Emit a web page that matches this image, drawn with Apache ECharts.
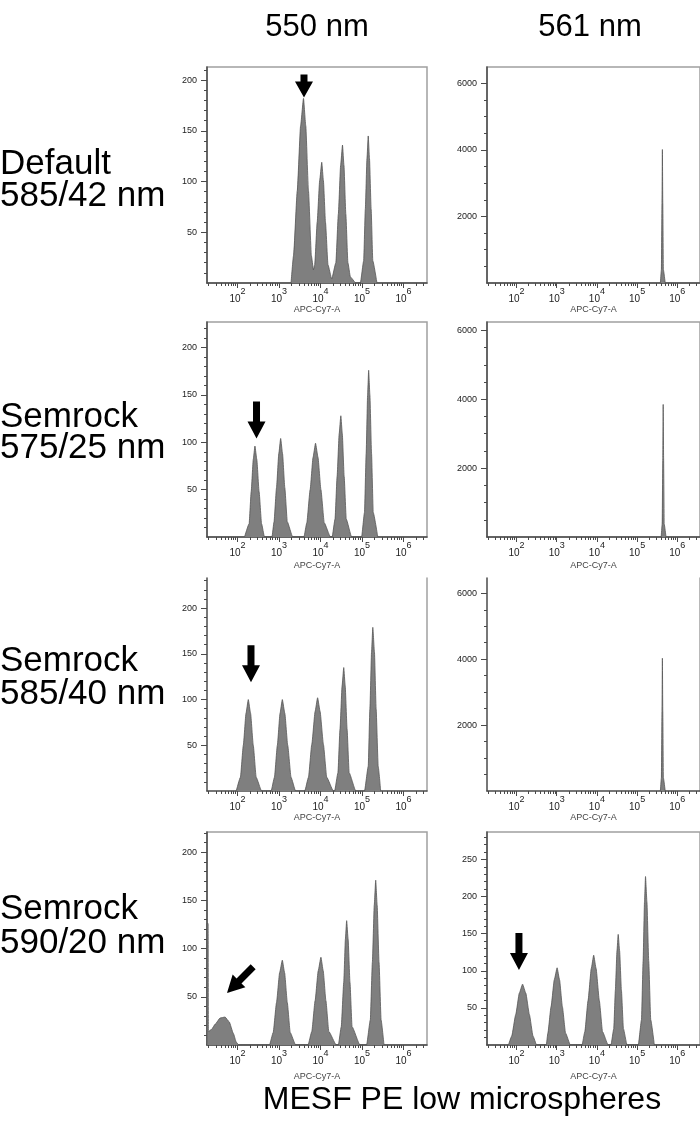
<!DOCTYPE html>
<html>
<head>
<meta charset="utf-8">
<script src="https://cdn.jsdelivr.net/npm/echarts@6/dist/echarts.min.js"></script>
<style>
  html, body { margin: 0; padding: 0; background: #fff; }
  #chart { width: 700px; height: 1123px; }
</style>
</head>
<body>
<div id="chart"></div>
<script>
// Histograms: [log10(APC-Cy7-A intensity), event count]
const hist550Default = [
  [3.29,0],[3.35,27],[3.44,91],[3.52,155],[3.59,182],[3.645,155],[3.71,91],[3.78,27],[3.83,13],
  [3.86,18],[3.92,60],[3.98,101],[4.03,119],[4.07,101],[4.12,60],[4.18,18],[4.27,4],
  [4.37,20],[4.43,68],[4.485,116],[4.53,136],[4.565,116],[4.61,68],[4.66,20],[4.72,6],[4.85,0],
  [4.96,0],[5.04,22],[5.08,73],[5.12,123],[5.15,145],[5.18,123],[5.22,73],[5.26,22],[5.36,0]
];
const hist561Default = [
  [5.58,0],[5.605,400],[5.62,2400],[5.63,4010],[5.64,2400],[5.655,400],[5.70,0]
];
const hist550Sr575 = [
  [2.17,0],[2.28,14],[2.33,48],[2.38,82],[2.42,96],[2.465,82],[2.52,48],[2.58,14],[2.65,0],
  [2.83,0],[2.88,16],[2.94,52],[2.995,88],[3.04,104],[3.085,88],[3.14,52],[3.20,16],[3.33,0],
  [3.60,0],[3.67,15],[3.75,50],[3.82,84],[3.88,99],[3.94,84],[4.01,50],[4.09,15],[4.24,0],
  [4.28,0],[4.35,19],[4.40,64],[4.45,109],[4.49,128],[4.525,109],[4.57,64],[4.62,19],[4.75,0],
  [4.99,0],[5.06,26],[5.10,88],[5.135,150],[5.16,176],[5.19,150],[5.23,88],[5.27,26],[5.38,0]
];
const hist561Sr575 = [
  [5.60,0],[5.625,380],[5.64,2300],[5.65,3850],[5.66,2300],[5.675,380],[5.72,0]
];
const hist550Sr585 = [
  [1.97,0],[2.07,15],[2.14,50],[2.205,85],[2.26,100],[2.315,85],[2.38,50],[2.45,15],[2.58,0],
  [2.81,0],[2.89,15],[2.96,50],[3.025,85],[3.08,100],[3.14,85],[3.21,50],[3.29,15],[3.40,0],
  [3.62,0],[3.71,15],[3.79,51],[3.87,87],[3.93,102],[3.99,87],[4.07,51],[4.15,15],[4.31,0],
  [4.34,0],[4.42,20],[4.47,68],[4.52,115],[4.56,135],[4.595,115],[4.64,68],[4.69,20],[4.85,0],
  [5.06,0],[5.15,27],[5.19,90],[5.23,152],[5.26,179],[5.30,152],[5.34,90],[5.39,27],[5.45,0]
];
const hist561Sr585 = [
  [5.58,0],[5.605,400],[5.62,2420],[5.63,4030],[5.64,2420],[5.655,400],[5.70,0]
];
const hist550Sr590 = [
  [1.265,0],[1.265,126],[1.292,126],[1.30,14],[1.37,16],[1.47,22],[1.58,28],[1.70,29],[1.80,24],[1.90,12],[1.97,3],[2.03,0],
  [2.77,0],[2.86,13],[2.94,44],[3.015,75],[3.08,88],[3.135,75],[3.20,44],[3.27,13],[3.40,0],
  [3.70,0],[3.79,14],[3.87,46],[3.945,77],[4.01,91],[4.065,77],[4.13,46],[4.20,14],[4.38,0],
  [4.43,0],[4.50,19],[4.56,65],[4.60,110],[4.63,129],[4.665,110],[4.71,65],[4.76,19],[4.95,0],
  [5.11,0],[5.20,26],[5.25,86],[5.295,145],[5.33,171],[5.365,145],[5.41,86],[5.46,26],[5.53,0]
];
const hist561Sr590 = [
  [1.80,0],[1.88,12],[1.98,41],[2.07,70],[2.15,82],[2.23,70],[2.32,41],[2.41,12],[2.50,0],
  [2.74,0],[2.78,16],[2.86,52],[2.94,88],[3.01,104],[3.07,88],[3.14,52],[3.22,16],[3.34,0],
  [3.63,0],[3.70,18],[3.78,60],[3.86,103],[3.92,121],[3.98,103],[4.06,60],[4.14,18],[4.28,0],
  [4.35,0],[4.42,22],[4.46,74],[4.50,127],[4.53,149],[4.565,127],[4.61,74],[4.66,22],[4.75,0],
  [5.03,0],[5.11,34],[5.15,113],[5.185,193],[5.21,227],[5.245,193],[5.29,113],[5.34,34],[5.43,0]
];

// Axis tick labels
const decadeExponents = [2, 3, 4, 5, 6];
const minorMultipliers = [2, 3, 4, 5, 6, 7, 8, 9];
const countTicksLow = [50, 100, 150, 200];
const countTicksHigh = [2000, 4000, 6000];
const countTicksLow250 = [50, 100, 150, 200, 250];

// Text
const columnTitles = ['550 nm', '561 nm'];
const rowTitles = [
  ['Default', '585/42 nm'],
  ['Semrock', '575/25 nm'],
  ['Semrock', '585/40 nm'],
  ['Semrock', '590/20 nm']
];
const xAxisName = 'APC-Cy7-A';
const footerTitle = 'MESF PE low microspheres';

// Arrow tips in data coordinates: [panel, log10 intensity, count]
const arrowTips = [
  [0, 3.602, 183],
  [2, 2.458, 104],
  [4, 2.325, 119],
  [6, 1.747, 54],
  [7, 2.060, 101]
];

// ---- layout ----
const FONT = '"Liberation Sans", Arial, sans-serif';
const NARROW = '"Liberation Sans Narrow", "Liberation Sans", Arial, sans-serif';
const XMIN = 1.265, XMAX = 6.566;
const colLeft = [207, 487];
const panelWidth = 220;
const rowTop = [67, 322, 578, 832];
const rowBottom = [283, 537, 791, 1045];
const nameOffset = [20, 24, 19, 27];

const panels = [
  { data: hist550Default, row: 0, col: 0, yMax: 213, major: countTicksLow, minorStep: 10 },
  { data: hist561Default, row: 0, col: 1, yMax: 6490, major: countTicksHigh, minorStep: 500 },
  { data: hist550Sr575, row: 1, col: 0, yMax: 227, major: countTicksLow, minorStep: 10 },
  { data: hist561Sr575, row: 1, col: 1, yMax: 6245, major: countTicksHigh, minorStep: 500 },
  { data: hist550Sr585, row: 2, col: 0, yMax: 233, major: countTicksLow, minorStep: 10 },
  { data: hist561Sr585, row: 2, col: 1, yMax: 6465, major: countTicksHigh, minorStep: 500 },
  { data: hist550Sr590, row: 3, col: 0, yMax: 221, major: countTicksLow, minorStep: 10 },
  { data: hist561Sr590, row: 3, col: 1, yMax: 287, major: countTicksLow250, minorStep: 10 }
];

const xMinorTicks = [];
[1, 2, 3, 4, 5, 6].forEach(d => minorMultipliers.forEach(m => {
  const v = d + Math.log10(m);
  if (v > XMIN && v < XMAX) xMinorTicks.push(v);
}));

const ARROW_SHORT = 'path://M5.5,0L12.5,0L12.5,7L18,7L9,23L0,7L5.5,7Z';
const ARROW_TALL = 'path://M5.5,0L12.5,0L12.5,20L18,20L9,37L0,20L5.5,20Z';

const axisColor = '#4a4a4a';
const frameColor = '#a0a0a0';
const tickLabelColor = '#222';

const grid = [], xAxis = [], yAxis = [], series = [];

panels.forEach((p, i) => {
  const framed = p.row !== 2;
  grid.push({
    left: colLeft[p.col], top: rowTop[p.row], width: panelWidth,
    height: rowBottom[p.row] - rowTop[p.row],
    show: framed, borderColor: frameColor, borderWidth: 1.5, backgroundColor: 'transparent'
  });

  const xMain = xAxis.length;
  xAxis.push({
    gridIndex: i, type: 'value', min: XMIN, max: XMAX, position: 'bottom',
    axisLine: { onZero: false, lineStyle: { color: axisColor, width: 1.5 } },
    axisTick: { customValues: decadeExponents, length: 5, lineStyle: { color: axisColor, width: 1 } },
    axisLabel: {
      customValues: decadeExponents, margin: 4,
      formatter: v => '{b|10}{s|' + Math.round(v) + '}',
      rich: {
        b: { fontFamily: FONT, fontSize: 10, lineHeight: 17, verticalAlign: 'bottom', color: tickLabelColor },
        s: { fontFamily: FONT, fontSize: 9, lineHeight: 6, verticalAlign: 'top', color: tickLabelColor }
      }
    },
    splitLine: { show: false },
    name: xAxisName, nameLocation: 'middle', nameGap: nameOffset[p.row],
    nameTextStyle: { fontFamily: NARROW, fontSize: 9, color: '#444' }
  });
  xAxis.push({
    gridIndex: i, type: 'value', min: XMIN, max: XMAX, position: 'bottom',
    axisLine: { show: false },
    axisTick: { customValues: xMinorTicks, length: 3, lineStyle: { color: axisColor, width: 1 } },
    axisLabel: { show: false },
    splitLine: { show: false }
  });

  const minorY = [];
  for (let v = p.minorStep; v < p.yMax; v += p.minorStep) {
    if (p.major.indexOf(v) < 0) minorY.push(v);
  }
  const yMain = yAxis.length;
  yAxis.push({
    gridIndex: i, type: 'value', min: 0, max: p.yMax, position: 'left',
    axisLine: { show: true, onZero: false, lineStyle: { color: axisColor, width: 1.5 } },
    axisTick: { show: true, customValues: p.major, length: 6, lineStyle: { color: axisColor, width: 1 } },
    axisLabel: {
      customValues: p.major, margin: 10, fontFamily: FONT, fontSize: 9, color: tickLabelColor,
      formatter: v => String(v)
    },
    splitLine: { show: false }
  });
  yAxis.push({
    gridIndex: i, type: 'value', min: 0, max: p.yMax, position: 'left',
    axisLine: { show: false },
    axisTick: { show: true, customValues: minorY, length: 3, lineStyle: { color: axisColor, width: 1 } },
    axisLabel: { show: false },
    splitLine: { show: false }
  });
  if (!framed) {
    yAxis.push({
      gridIndex: i, type: 'value', min: 0, max: p.yMax, position: 'right',
      axisLine: { show: true, onZero: false, lineStyle: { color: frameColor, width: 1.5 } },
      axisTick: { show: false }, axisLabel: { show: false }, splitLine: { show: false }
    });
  }

  const marks = arrowTips.filter(a => a[0] === i).map(a => {
    const diagonal = i === 6;
    const tall = i !== 0;
    const h = tall ? 37 : 23;
    return {
      coord: [a[1], a[2]],
      symbol: tall ? ARROW_TALL : ARROW_SHORT,
      symbolSize: [18, h],
      symbolRotate: diagonal ? -45 : 0,
      symbolOffset: diagonal ? [h / 2 * Math.SQRT1_2, -h / 2 * Math.SQRT1_2] : [0, -h / 2],
      itemStyle: { color: '#000' },
      label: { show: false }
    };
  });

  series.push({
    type: 'line', xAxisIndex: xMain, yAxisIndex: yMain, data: p.data,
    symbol: 'none', smooth: 0.15, smoothMonotone: 'x', clip: true, silent: true,
    lineStyle: { color: '#555', width: 0.8 },
    areaStyle: { color: '#7f7f7f', opacity: 1 },
    markPoint: marks.length ? { silent: true, data: marks } : undefined
  });
});

const graphic = [];
const columnTitleX = [317, 590];
columnTitles.forEach((t, c) => {
  graphic.push({
    type: 'text', x: columnTitleX[c], y: 27,
    style: { text: t, font: '31px ' + FONT, fill: '#000', align: 'center', verticalAlign: 'middle' }
  });
});
const rowLabelY = [[164, 196], [417, 448], [661, 694], [909, 943]];
rowTitles.forEach((lines, r) => {
  lines.forEach((t, k) => {
    graphic.push({
      type: 'text', x: 0, y: rowLabelY[r][k],
      style: { text: t, font: '35px ' + FONT, fill: '#000', align: 'left', verticalAlign: 'middle' }
    });
  });
});
graphic.push({
  type: 'text', x: 462, y: 1100,
  style: { text: footerTitle, font: '32px ' + FONT, fill: '#000', align: 'center', verticalAlign: 'middle' }
});

const chart = echarts.init(document.getElementById('chart'), null, { renderer: 'canvas' });
chart.setOption({
  animation: false,
  backgroundColor: '#fff',
  grid, xAxis, yAxis, series, graphic
});
</script>
</body>
</html>
